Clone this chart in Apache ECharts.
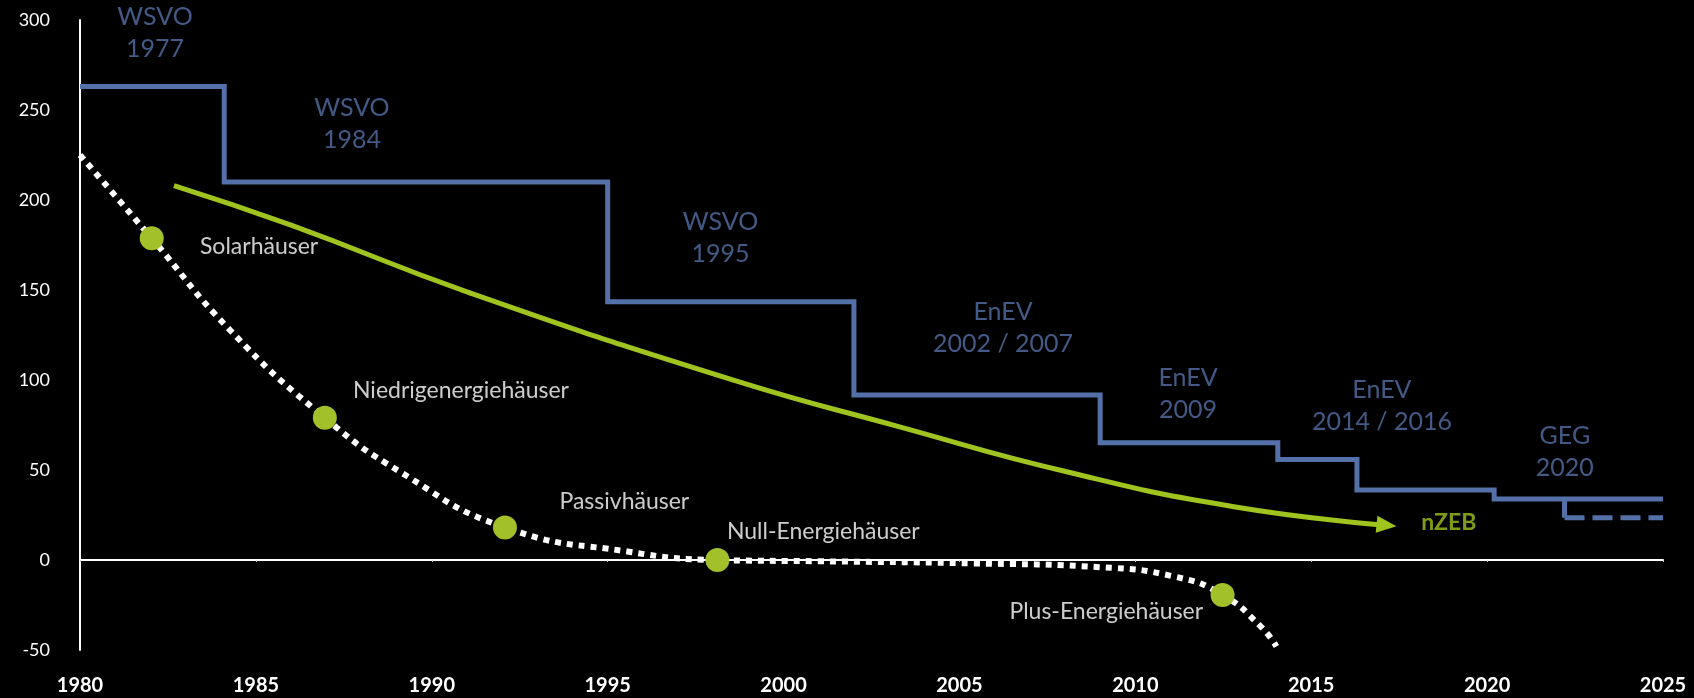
<!DOCTYPE html>
<html>
<head>
<meta charset="utf-8">
<script src="https://cdn.jsdelivr.net/npm/echarts@6/dist/echarts.min.js"></script>
<style>
html,body{margin:0;padding:0;background:#000;}
#chart{width:1694px;height:698px;}
</style>
</head>
<body>
<div id="chart"></div>
<script>
// ---- Data ----
const xTicks = [1980, 1985, 1990, 1995, 2000, 2005, 2010, 2015, 2020, 2025];
const yTicks = [-50, 0, 50, 100, 150, 200, 250, 300];

// Regulatory limits (step line): [year, value]
const regulationSteps = [
  [1980, 263], [1984.1, 263], [1984.1, 210], [1995, 210], [1995, 143.5],
  [2002, 143.5], [2002, 91.7], [2009, 91.7], [2009, 65.2], [2014.05, 65.2],
  [2014.05, 55.9], [2016.3, 55.9], [2016.3, 38.9], [2020.2, 38.9],
  [2020.2, 33.9], [2025, 33.9]
];
const gegDrop = [[2022.2, 33.9], [2022.2, 23.5]];
const gegFuture = [[2022.2, 23.5], [2025, 23.5]];

// Trend towards nZEB
const nzebTrend = [
  [1982.67, 208], [1986, 186], [1991, 149], [1998.6, 99.8], [2003.3, 74],
  [2008.05, 49], [2012.8, 29.6], [2017.14, 19.3]
];

// Best-practice buildings curve
const bestPractice = [
  [1980, 225], [1982.04, 178.7], [1984.26, 127.8], [1986.96, 79],
  [1989.1, 49], [1992.08, 18.1], [1995.6, 4.6], [1998.12, 0],
  [2001, -0.7], [2005.4, -1.9], [2009, -4], [2011.13, -9.3],
  [2012.48, -19.4], [2013.57, -37], [2014.01, -48]
];

// Milestone markers
const milestones = [
  [1982.04, 178.7], [1986.96, 79], [1992.08, 18.1], [1998.12, 0], [2012.48, -19.4]
];

// Annotations
const regulationLabels = ['WSVO\n1977', 'WSVO\n1984', 'WSVO\n1995', 'EnEV\n2002 / 2007', 'EnEV\n2009', 'EnEV\n2014 / 2016', 'GEG\n2020'];
const regulationLabelPos = [[1982.13, 292.8], [1987.73, 242.5], [1998.21, 179.2], [2006.24, 129.2], [2011.5, 92.2], [2017.01, 85.6], [2022.21, 60.3]];
const houseLabels = ['Solarhäuser', 'Niedrigenergiehäuser', 'Passivhäuser', 'Null-Energiehäuser', 'Plus-Energiehäuser'];
const houseLabelPos = [[1983.41, 174.4], [1987.76, 93.9], [1993.63, 32.4], [1998.39, 15.7], [2006.42, -28.7]];
const nzebLabel = 'nZEB';
const nzebLabelPos = [2018.91, 20.6];

// ---- Chart ----
const BLUE = '#5470a8';
const GREEN = '#9fc31f';
const DOT = '#a2c02a';
const FONT = 'Lato';

const chart = echarts.init(document.getElementById('chart'));

const last = nzebTrend.length - 1;
const trendData = nzebTrend.map((p, i) => i === last
  ? { value: p, symbol: 'triangle', symbolSize: [17, 20], symbolRotate: -96 }
  : { value: p });

chart.setOption({
  backgroundColor: '#000',
  animation: false,
  grid: { left: 80, right: 31, top: 20, bottom: 48, containLabel: false },
  xAxis: [
    {
      type: 'value', min: xTicks[0], max: xTicks[xTicks.length - 1], interval: 5,
      position: 'bottom',
      axisLine: { show: true, onZero: true, lineStyle: { color: '#fff', width: 2 } },
      axisTick: { show: true, length: 2, lineStyle: { color: '#ccc', width: 1 } },
      axisLabel: { show: false },
      splitLine: { show: false }
    },
    {
      type: 'value', min: xTicks[0], max: xTicks[xTicks.length - 1], interval: 5,
      position: 'bottom',
      axisLine: { show: false, onZero: false },
      axisTick: { show: false },
      axisLabel: { show: true, color: '#fff', fontSize: 20, fontFamily: FONT, fontWeight: 'bold', margin: 26,
        formatter: v => String(v) },
      splitLine: { show: false }
    }
  ],
  yAxis: {
    type: 'value', min: yTicks[0], max: yTicks[yTicks.length - 1], interval: 50,
    axisLine: { show: true, onZero: false, lineStyle: { color: '#fff', width: 2 } },
    axisTick: { show: false },
    axisLabel: { color: '#fff', fontSize: 18, fontFamily: FONT, margin: 30 },
    splitLine: { show: false }
  },
  series: [
    {
      name: 'Anforderungen', type: 'line', data: regulationSteps, symbol: 'none',
      lineStyle: { color: BLUE, width: 5, join: 'miter' }, z: 3
    },
    {
      name: 'GEG Absenkung', type: 'line', data: gegDrop, symbol: 'none',
      lineStyle: { color: BLUE, width: 5 }, z: 3
    },
    {
      name: 'GEG Zukunft', type: 'line', data: gegFuture, symbol: 'none',
      lineStyle: { color: BLUE, width: 5, type: [20, 8] }, z: 3
    },
    {
      name: 'nZEB Trend', type: 'line', data: trendData, symbol: 'none', showAllSymbol: true,
      smooth: 0.5, lineStyle: { color: GREEN, width: 5 }, itemStyle: { color: GREEN }, z: 4
    },
    {
      name: 'Best Practice', type: 'line', data: bestPractice, symbol: 'none',
      smooth: 0.5,
      lineStyle: { color: '#fff', width: 6, type: [6, 6], cap: 'butt' }, z: 5
    },
    {
      name: 'Meilensteine', type: 'scatter', data: milestones, symbol: 'circle', symbolSize: 24,
      itemStyle: { color: DOT, opacity: 1 }, z: 6
    },
    {
      name: 'Regelwerke', type: 'scatter', symbolSize: 0, z: 7,
      data: regulationLabels.map((t, i) => ({ name: t, value: regulationLabelPos[i] })),
      label: { show: true, position: 'inside', formatter: p => p.name, color: BLUE,
        fontSize: 25, lineHeight: 32, fontFamily: FONT, align: 'center' }
    },
    {
      name: 'Haustypen', type: 'scatter', symbolSize: 0, z: 7,
      data: houseLabels.map((t, i) => ({ name: t, value: houseLabelPos[i] })),
      label: { show: true, position: 'right', distance: 0, formatter: p => p.name, color: '#fff',
        fontSize: 23, fontFamily: FONT }
    },
    {
      name: 'nZEB', type: 'scatter', symbolSize: 0, z: 7,
      data: [{ name: nzebLabel, value: nzebLabelPos }],
      label: { show: true, position: 'inside', formatter: p => p.name, color: GREEN,
        fontSize: 23, fontWeight: 'bold', fontFamily: FONT }
    }
  ]
});
</script>
</body>
</html>
